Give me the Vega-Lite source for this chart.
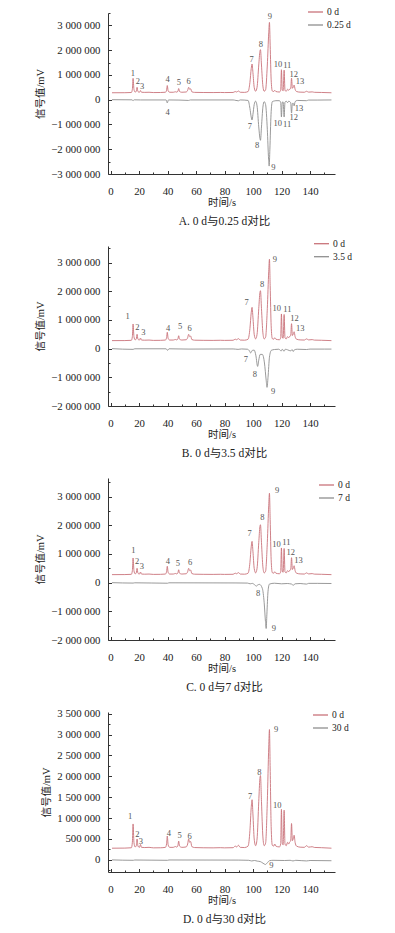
{
  "$schema": "https://vega.github.io/schema/vega-lite/v6.json",
  "padding": {"left": 35, "top": 3, "right": 5, "bottom": 2},
  "spacing": 72,
  "bounds": "flush",
  "resolve": {"scale": {"color": "independent"}, "legend": {"color": "independent"}},
  "config": {
    "locale": {"number": {"decimal": ".", "thousands": " ", "grouping": [3], "currency": ["", ""], "minus": "−"}},
    "view": {"stroke": null},
    "font": "Liberation Serif, Noto Sans CJK SC",
    "axis": {
      "domainColor": "#333",
      "tickColor": "#333",
      "labelFont": "Liberation Serif",
      "labelFontSize": 10.8,
      "labelColor": "#222",
      "labelOverlap": false,
      "titleFont": "Liberation Serif, Noto Sans CJK SC",
      "titleFontWeight": "normal",
      "titleFontSize": 10.5,
      "titleColor": "#222",
      "grid": false
    },
    "legend": {
      "labelFont": "Liberation Serif",
      "labelFontSize": 9.5,
      "labelColor": "#222",
      "symbolType": "stroke",
      "symbolSize": 225,
      "symbolStrokeWidth": 1.3,
      "rowPadding": -6.5,
      "padding": 0,
      "labelOffset": 3
    },
    "title": {"font": "Liberation Serif, Noto Sans CJK SC", "fontSize": 11.5, "fontWeight": "normal", "color": "#222", "offset": 8, "frame": "group", "dx": 3}
  },
  "datasets": {
    "red": [
      {"t": 1, "v": 280000}, {"t": 10, "v": 282000}, {"t": 14.6, "v": 290000}, {"t": 15.3, "v": 420000}, {"t": 15.8, "v": 860000}, {"t": 16.4, "v": 420000}, {"t": 17.2, "v": 310000}, {"t": 18, "v": 330000}, {"t": 18.6, "v": 500000}, {"t": 19.2, "v": 330000}, {"t": 20.3, "v": 300000}, {"t": 21, "v": 370000}, {"t": 21.7, "v": 300000}, {"t": 24, "v": 295000}, {"t": 27, "v": 300000}, {"t": 30, "v": 288000}, {"t": 35, "v": 290000}, {"t": 38.5, "v": 300000}, {"t": 39.3, "v": 380000}, {"t": 39.8, "v": 570000}, {"t": 40.4, "v": 360000}, {"t": 41.5, "v": 300000}, {"t": 44, "v": 300000}, {"t": 45.5, "v": 320000}, {"t": 46.5, "v": 305000}, {"t": 47.3, "v": 350000}, {"t": 47.8, "v": 450000}, {"t": 48.4, "v": 330000}, {"t": 50, "v": 300000}, {"t": 53, "v": 310000}, {"t": 54.1, "v": 380000}, {"t": 54.8, "v": 500000}, {"t": 55.5, "v": 420000}, {"t": 56.2, "v": 440000}, {"t": 57, "v": 320000}, {"t": 59, "v": 295000}, {"t": 65, "v": 290000}, {"t": 72, "v": 288000}, {"t": 77, "v": 292000}, {"t": 80, "v": 288000}, {"t": 86, "v": 292000}, {"t": 87.5, "v": 330000}, {"t": 88.5, "v": 310000}, {"t": 89.7, "v": 350000}, {"t": 91, "v": 300000}, {"t": 94, "v": 295000}, {"t": 96.5, "v": 330000}, {"t": 97.8, "v": 700000}, {"t": 98.7, "v": 1250000}, {"t": 99.3, "v": 1440000}, {"t": 99.9, "v": 1100000}, {"t": 100.8, "v": 500000}, {"t": 101.8, "v": 340000}, {"t": 102.8, "v": 500000}, {"t": 104, "v": 1400000}, {"t": 104.8, "v": 1950000}, {"t": 105.2, "v": 2020000}, {"t": 105.9, "v": 1400000}, {"t": 106.9, "v": 550000}, {"t": 107.8, "v": 340000}, {"t": 108.8, "v": 400000}, {"t": 110, "v": 1400000}, {"t": 111, "v": 2700000}, {"t": 111.5, "v": 3120000}, {"t": 112, "v": 2200000}, {"t": 112.7, "v": 800000}, {"t": 113.5, "v": 350000}, {"t": 114.5, "v": 330000}, {"t": 115.2, "v": 380000}, {"t": 116, "v": 330000}, {"t": 118.5, "v": 310000}, {"t": 119.4, "v": 380000}, {"t": 119.9, "v": 1210000}, {"t": 120.5, "v": 400000}, {"t": 121.1, "v": 360000}, {"t": 121.8, "v": 1190000}, {"t": 122.4, "v": 380000}, {"t": 123.3, "v": 340000}, {"t": 124.2, "v": 420000}, {"t": 125, "v": 380000}, {"t": 125.7, "v": 430000}, {"t": 126.4, "v": 450000}, {"t": 127, "v": 870000}, {"t": 127.6, "v": 460000}, {"t": 128.3, "v": 520000}, {"t": 128.8, "v": 590000}, {"t": 129.5, "v": 420000}, {"t": 130.5, "v": 330000}, {"t": 133, "v": 305000}, {"t": 136, "v": 300000}, {"t": 137.5, "v": 340000}, {"t": 139, "v": 305000}, {"t": 141.5, "v": 315000}, {"t": 143, "v": 298000}, {"t": 148, "v": 292000}, {"t": 155, "v": 280000}
    ],
    "gA": [
      {"t": 1, "v": 0}, {"t": 15, "v": -5000}, {"t": 15.8, "v": -40000}, {"t": 16.6, "v": -5000}, {"t": 21, "v": -10000}, {"t": 39, "v": -10000}, {"t": 39.8, "v": -130000}, {"t": 40.6, "v": -10000}, {"t": 48, "v": -15000}, {"t": 54.8, "v": -30000}, {"t": 56, "v": -10000}, {"t": 86, "v": -10000}, {"t": 88, "v": -30000}, {"t": 89.7, "v": -45000}, {"t": 91, "v": -10000}, {"t": 96.5, "v": -30000}, {"t": 97.8, "v": -350000}, {"t": 98.7, "v": -700000}, {"t": 99.3, "v": -820000}, {"t": 99.9, "v": -600000}, {"t": 100.8, "v": -200000}, {"t": 101.8, "v": -60000}, {"t": 102.8, "v": -250000}, {"t": 104, "v": -1100000}, {"t": 104.8, "v": -1550000}, {"t": 105.2, "v": -1640000}, {"t": 105.9, "v": -1100000}, {"t": 106.9, "v": -300000}, {"t": 107.8, "v": -80000}, {"t": 108.8, "v": -200000}, {"t": 110, "v": -1200000}, {"t": 110.9, "v": -2400000}, {"t": 111.3, "v": -2680000}, {"t": 111.8, "v": -2000000}, {"t": 112.6, "v": -600000}, {"t": 113.5, "v": -80000}, {"t": 115, "v": -50000}, {"t": 116, "v": -40000}, {"t": 118.5, "v": -40000}, {"t": 119.4, "v": -120000}, {"t": 119.9, "v": -700000}, {"t": 120.5, "v": -100000}, {"t": 121.1, "v": -90000}, {"t": 121.8, "v": -700000}, {"t": 122.4, "v": -100000}, {"t": 123.3, "v": -60000}, {"t": 124.2, "v": -120000}, {"t": 125, "v": -60000}, {"t": 126.4, "v": -120000}, {"t": 127, "v": -540000}, {"t": 127.6, "v": -150000}, {"t": 128.3, "v": -150000}, {"t": 128.8, "v": -250000}, {"t": 129.5, "v": -80000}, {"t": 131, "v": -30000}, {"t": 137.5, "v": -40000}, {"t": 139, "v": -15000}, {"t": 145, "v": -15000}, {"t": 155, "v": -10000}
    ],
    "gB": [
      {"t": 1, "v": 0}, {"t": 15.8, "v": -25000}, {"t": 17, "v": -5000}, {"t": 39, "v": -5000}, {"t": 40, "v": -60000}, {"t": 41, "v": -5000}, {"t": 48, "v": -10000}, {"t": 55, "v": -15000}, {"t": 86, "v": -10000}, {"t": 89.5, "v": -25000}, {"t": 92, "v": -10000}, {"t": 96, "v": -20000}, {"t": 97.5, "v": -80000}, {"t": 98.3, "v": -150000}, {"t": 99.5, "v": -60000}, {"t": 100.8, "v": -50000}, {"t": 102, "v": -250000}, {"t": 103.2, "v": -620000}, {"t": 104, "v": -400000}, {"t": 105, "v": -200000}, {"t": 106.5, "v": -200000}, {"t": 108, "v": -500000}, {"t": 109.2, "v": -1100000}, {"t": 109.8, "v": -1350000}, {"t": 110.5, "v": -1000000}, {"t": 111.5, "v": -300000}, {"t": 112.8, "v": -60000}, {"t": 115, "v": -30000}, {"t": 118, "v": -20000}, {"t": 119.8, "v": -80000}, {"t": 120.5, "v": -20000}, {"t": 121.8, "v": -90000}, {"t": 122.6, "v": -20000}, {"t": 124.2, "v": -40000}, {"t": 126.5, "v": -80000}, {"t": 127.3, "v": -30000}, {"t": 128.2, "v": -100000}, {"t": 129, "v": -40000}, {"t": 131, "v": -20000}, {"t": 137.5, "v": -30000}, {"t": 140, "v": -15000}, {"t": 150, "v": -15000}, {"t": 155, "v": -15000}
    ],
    "gC": [
      {"t": 1, "v": 0}, {"t": 15.8, "v": -15000}, {"t": 17, "v": -5000}, {"t": 40, "v": -20000}, {"t": 41, "v": -5000}, {"t": 88, "v": -10000}, {"t": 96, "v": -15000}, {"t": 98, "v": -40000}, {"t": 99.5, "v": -25000}, {"t": 101, "v": -70000}, {"t": 102.3, "v": -120000}, {"t": 103.3, "v": -80000}, {"t": 104.5, "v": -60000}, {"t": 106.5, "v": -200000}, {"t": 107.8, "v": -700000}, {"t": 108.7, "v": -1350000}, {"t": 109.2, "v": -1600000}, {"t": 109.7, "v": -1100000}, {"t": 110.5, "v": -300000}, {"t": 111.5, "v": -50000}, {"t": 115, "v": -20000}, {"t": 120, "v": -40000}, {"t": 124, "v": -30000}, {"t": 127, "v": -50000}, {"t": 128.2, "v": -90000}, {"t": 129.5, "v": -40000}, {"t": 133, "v": -30000}, {"t": 137.5, "v": -50000}, {"t": 139, "v": -25000}, {"t": 145, "v": -25000}, {"t": 155, "v": -30000}
    ],
    "gD": [
      {"t": 1, "v": 0}, {"t": 16, "v": -10000}, {"t": 17, "v": -3000}, {"t": 40, "v": -10000}, {"t": 41, "v": -2000}, {"t": 90, "v": -5000}, {"t": 97, "v": -10000}, {"t": 99, "v": -25000}, {"t": 101, "v": -15000}, {"t": 103, "v": -30000}, {"t": 105, "v": -40000}, {"t": 107, "v": -80000}, {"t": 108.7, "v": -110000}, {"t": 110, "v": -70000}, {"t": 111.5, "v": -20000}, {"t": 114, "v": -10000}, {"t": 122, "v": -15000}, {"t": 126, "v": -10000}, {"t": 128, "v": -25000}, {"t": 130, "v": -10000}, {"t": 137.5, "v": -25000}, {"t": 140, "v": -15000}, {"t": 155, "v": -20000}
    ],
    "lA": [
      {"t": 15.6, "v": 1080000, "label": "1"}, {"t": 19.2, "v": 770000, "label": "2"}, {"t": 22.2, "v": 570000, "label": "3"}, {"t": 40, "v": 830000, "label": "4"}, {"t": 48, "v": 700000, "label": "5"}, {"t": 54.8, "v": 750000, "label": "6"}, {"t": 99, "v": 1640000, "label": "7"}, {"t": 105.5, "v": 2240000, "label": "8"}, {"t": 111.8, "v": 3390000, "label": "9"}, {"t": 117.5, "v": 1450000, "label": "10"}, {"t": 124, "v": 1400000, "label": "11"}, {"t": 128.5, "v": 1050000, "label": "12"}, {"t": 133, "v": 750000, "label": "13"},
      {"t": 40, "v": -510000, "label": "4"}, {"t": 97.7, "v": -1080000, "label": "7"}, {"t": 102.8, "v": -1810000, "label": "8"}, {"t": 114.2, "v": -2710000, "label": "9"}, {"t": 117.4, "v": -940000, "label": "10"}, {"t": 123.9, "v": -970000, "label": "11"}, {"t": 128.6, "v": -710000, "label": "12"}, {"t": 132.3, "v": -340000, "label": "13"}
    ],
    "lB": [
      {"t": 11.9, "v": 1130000, "label": "1"}, {"t": 18.9, "v": 760000, "label": "2"}, {"t": 23.1, "v": 570000, "label": "3"}, {"t": 40.4, "v": 730000, "label": "4"}, {"t": 48.8, "v": 790000, "label": "5"}, {"t": 55.5, "v": 730000, "label": "6"}, {"t": 95.4, "v": 1630000, "label": "7"}, {"t": 106.4, "v": 2270000, "label": "8"}, {"t": 115.3, "v": 3110000, "label": "9"}, {"t": 116.7, "v": 1420000, "label": "10"}, {"t": 124.1, "v": 1390000, "label": "11"}, {"t": 129, "v": 1070000, "label": "12"}, {"t": 133.2, "v": 730000, "label": "13"},
      {"t": 95, "v": -360000, "label": "7"}, {"t": 101.3, "v": -890000, "label": "8"}, {"t": 114.1, "v": -1470000, "label": "9"}
    ],
    "lC": [
      {"t": 16, "v": 1140000, "label": "1"}, {"t": 18.6, "v": 770000, "label": "2"}, {"t": 21.9, "v": 590000, "label": "3"}, {"t": 40.3, "v": 770000, "label": "4"}, {"t": 47.3, "v": 670000, "label": "5"}, {"t": 55.9, "v": 710000, "label": "6"}, {"t": 97.5, "v": 1740000, "label": "7"}, {"t": 106.6, "v": 2300000, "label": "8"}, {"t": 116.9, "v": 3220000, "label": "9"}, {"t": 116.4, "v": 1360000, "label": "10"}, {"t": 123.4, "v": 1430000, "label": "11"}, {"t": 126.4, "v": 1080000, "label": "12"}, {"t": 131.8, "v": 790000, "label": "13"},
      {"t": 103.6, "v": -350000, "label": "8"}, {"t": 114.6, "v": -1580000, "label": "9"}
    ],
    "lD": [
      {"t": 13.8, "v": 1040000, "label": "1"}, {"t": 18.9, "v": 610000, "label": "2"}, {"t": 21.3, "v": 450000, "label": "3"}, {"t": 41, "v": 650000, "label": "4"}, {"t": 48.4, "v": 590000, "label": "5"}, {"t": 55.4, "v": 560000, "label": "6"}, {"t": 98, "v": 1520000, "label": "7"}, {"t": 104.5, "v": 2100000, "label": "8"}, {"t": 116.2, "v": 3140000, "label": "9"}, {"t": 116.9, "v": 1310000, "label": "10"},
      {"t": 112.8, "v": -120000, "label": "9"}
    ]
  },
  "vconcat": [
    {
      "width": 227, "height": 161,
      "title": {"text": "A. 0 d与0.25 d对比", "orient": "bottom"},
      "resolve": {"axis": {"x": "independent", "y": "independent"}},
      "layer": [
        {
          "data": {"name": "red"},
          "mark": {"type": "line", "interpolate": "monotone", "strokeWidth": 0.9},
          "encoding": {
            "x": {"field": "t", "type": "quantitative", "scale": {"domain": [-1.8, 157.5], "nice": false, "zero": false},
              "axis": {"orient": "bottom", "title": "时间/s", "values": [0,20,40,60,80,100,120,140], "tickSize": -3.5, "labelPadding": 15, "titlePadding": 1}},
            "y": {"field": "v", "type": "quantitative", "scale": {"domain": [-3000000, 3500000], "nice": false, "zero": false},
              "axis": {"orient": "left", "title": "信号值/mV", "format": ",d", "values": [-3000000,-2000000,-1000000,0,1000000,2000000,3000000], "tickSize": -3.5, "labelPadding": 11.5, "titlePadding": 5}},
            "color": {"datum": "0 d", "type": "nominal", "scale": {"domain": ["0 d", "0.25 d"], "range": ["#c9737a", "#8f8f8f"]},
              "legend": {"title": null, "orient": "none", "legendX": 199, "legendY": -9.5}}
          }
        },
        {
          "data": {"name": "gA"},
          "mark": {"type": "line", "interpolate": "monotone", "strokeWidth": 0.9},
          "encoding": {
            "x": {"field": "t", "type": "quantitative", "axis": {"orient": "bottom", "values": [10,30,50,70,90,110,130,150], "labels": false, "title": null, "domain": false, "tickSize": -2}},
            "y": {"field": "v", "type": "quantitative", "axis": {"orient": "left", "values": [-2500000,-1500000,-500000,500000,1500000,2500000,3500000], "labels": false, "title": null, "domain": false, "tickSize": -2}},
            "color": {"datum": "0.25 d", "type": "nominal"}
          }
        },
        {
          "data": {"name": "lA"},
          "mark": {"type": "text", "font": "Liberation Serif", "fontSize": 8.5, "fill": "#555"},
          "encoding": {
            "x": {"field": "t", "type": "quantitative", "axis": null},
            "y": {"field": "v", "type": "quantitative", "axis": null},
            "text": {"field": "label"}
          }
        }
      ]
    },
    {
      "width": 227, "height": 160,
      "title": {"text": "B. 0 d与3.5 d对比", "orient": "bottom"},
      "resolve": {"axis": {"x": "independent", "y": "independent"}},
      "layer": [
        {
          "data": {"name": "red"},
          "mark": {"type": "line", "interpolate": "monotone", "strokeWidth": 0.9},
          "encoding": {
            "x": {"field": "t", "type": "quantitative", "scale": {"domain": [-1.8, 157.5], "nice": false, "zero": false},
              "axis": {"orient": "bottom", "title": "时间/s", "values": [0,20,40,60,80,100,120,140], "tickSize": -3.5, "labelPadding": 15, "titlePadding": 1}},
            "y": {"field": "v", "type": "quantitative", "scale": {"domain": [-2000000, 3580000], "nice": false, "zero": false},
              "axis": {"orient": "left", "title": "信号值/mV", "format": ",d", "values": [-2000000,-1000000,0,1000000,2000000,3000000], "tickSize": -3.5, "labelPadding": 11.5, "titlePadding": 5}},
            "color": {"datum": "0 d", "type": "nominal", "scale": {"domain": ["0 d", "3.5 d"], "range": ["#c9737a", "#8f8f8f"]},
              "legend": {"title": null, "orient": "none", "legendX": 205, "legendY": -10.8}}
          }
        },
        {
          "data": {"name": "gB"},
          "mark": {"type": "line", "interpolate": "monotone", "strokeWidth": 0.9},
          "encoding": {
            "x": {"field": "t", "type": "quantitative", "axis": {"orient": "bottom", "values": [10,30,50,70,90,110,130,150], "labels": false, "title": null, "domain": false, "tickSize": -2}},
            "y": {"field": "v", "type": "quantitative", "axis": {"orient": "left", "values": [-1500000,-500000,500000,1500000,2500000,3500000], "labels": false, "title": null, "domain": false, "tickSize": -2}},
            "color": {"datum": "3.5 d", "type": "nominal"}
          }
        },
        {
          "data": {"name": "lB"},
          "mark": {"type": "text", "font": "Liberation Serif", "fontSize": 8.5, "fill": "#555"},
          "encoding": {
            "x": {"field": "t", "type": "quantitative", "axis": null},
            "y": {"field": "v", "type": "quantitative", "axis": null},
            "text": {"field": "label"}
          }
        }
      ]
    },
    {
      "width": 227, "height": 162,
      "title": {"text": "C. 0 d与7 d对比", "orient": "bottom"},
      "resolve": {"axis": {"x": "independent", "y": "independent"}},
      "layer": [
        {
          "data": {"name": "red"},
          "mark": {"type": "line", "interpolate": "monotone", "strokeWidth": 0.9},
          "encoding": {
            "x": {"field": "t", "type": "quantitative", "scale": {"domain": [-1.8, 157.5], "nice": false, "zero": false},
              "axis": {"orient": "bottom", "title": "时间/s", "values": [0,20,40,60,80,100,120,140], "tickSize": -3.5, "labelPadding": 15, "titlePadding": 1}},
            "y": {"field": "v", "type": "quantitative", "scale": {"domain": [-2000000, 3650000], "nice": false, "zero": false},
              "axis": {"orient": "left", "title": "信号值/mV", "format": ",d", "values": [-2000000,-1000000,0,1000000,2000000,3000000], "tickSize": -3.5, "labelPadding": 11.5, "titlePadding": 5}},
            "color": {"datum": "0 d", "type": "nominal", "scale": {"domain": ["0 d", "7 d"], "range": ["#c9737a", "#8f8f8f"]},
              "legend": {"title": null, "orient": "none", "legendX": 210, "legendY": -1.5}}
          }
        },
        {
          "data": {"name": "gC"},
          "mark": {"type": "line", "interpolate": "monotone", "strokeWidth": 0.9},
          "encoding": {
            "x": {"field": "t", "type": "quantitative", "axis": {"orient": "bottom", "values": [10,30,50,70,90,110,130,150], "labels": false, "title": null, "domain": false, "tickSize": -2}},
            "y": {"field": "v", "type": "quantitative", "axis": {"orient": "left", "values": [-1500000,-500000,500000,1500000,2500000,3500000], "labels": false, "title": null, "domain": false, "tickSize": -2}},
            "color": {"datum": "7 d", "type": "nominal"}
          }
        },
        {
          "data": {"name": "lC"},
          "mark": {"type": "text", "font": "Liberation Serif", "fontSize": 8.5, "fill": "#555"},
          "encoding": {
            "x": {"field": "t", "type": "quantitative", "axis": null},
            "y": {"field": "v", "type": "quantitative", "axis": null},
            "text": {"field": "label"}
          }
        }
      ]
    },
    {
      "width": 227, "height": 160,
      "title": {"text": "D. 0 d与30 d对比", "orient": "bottom"},
      "resolve": {"axis": {"x": "independent", "y": "independent"}},
      "layer": [
        {
          "data": {"name": "red"},
          "mark": {"type": "line", "interpolate": "monotone", "strokeWidth": 0.9},
          "encoding": {
            "x": {"field": "t", "type": "quantitative", "scale": {"domain": [-1.8, 157.5], "nice": false, "zero": false},
              "axis": {"orient": "bottom", "title": "时间/s", "values": [0,20,40,60,80,100,120,140], "tickSize": -3.5, "labelPadding": 15, "titlePadding": 1}},
            "y": {"field": "v", "type": "quantitative", "scale": {"domain": [-290000, 3540000], "nice": false, "zero": false},
              "axis": {"orient": "left", "title": "信号值/mV", "format": ",d", "values": [0,500000,1000000,1500000,2000000,2500000,3000000,3500000], "tickSize": -3.5, "labelPadding": 11.5, "titlePadding": 5}},
            "color": {"datum": "0 d", "type": "nominal", "scale": {"domain": ["0 d", "30 d"], "range": ["#c9737a", "#8f8f8f"]},
              "legend": {"title": null, "orient": "none", "legendX": 204, "legendY": -5.5}}
          }
        },
        {
          "data": {"name": "gD"},
          "mark": {"type": "line", "interpolate": "monotone", "strokeWidth": 0.9},
          "encoding": {
            "x": {"field": "t", "type": "quantitative", "axis": {"orient": "bottom", "values": [10,30,50,70,90,110,130,150], "labels": false, "title": null, "domain": false, "tickSize": -2}},
            "y": {"field": "v", "type": "quantitative", "axis": {"orient": "left", "values": [-250000,250000,750000,1250000,1750000,2250000,2750000,3250000], "labels": false, "title": null, "domain": false, "tickSize": -2}},
            "color": {"datum": "30 d", "type": "nominal"}
          }
        },
        {
          "data": {"name": "lD"},
          "mark": {"type": "text", "font": "Liberation Serif", "fontSize": 8.5, "fill": "#555"},
          "encoding": {
            "x": {"field": "t", "type": "quantitative", "axis": null},
            "y": {"field": "v", "type": "quantitative", "axis": null},
            "text": {"field": "label"}
          }
        }
      ]
    }
  ]
}
